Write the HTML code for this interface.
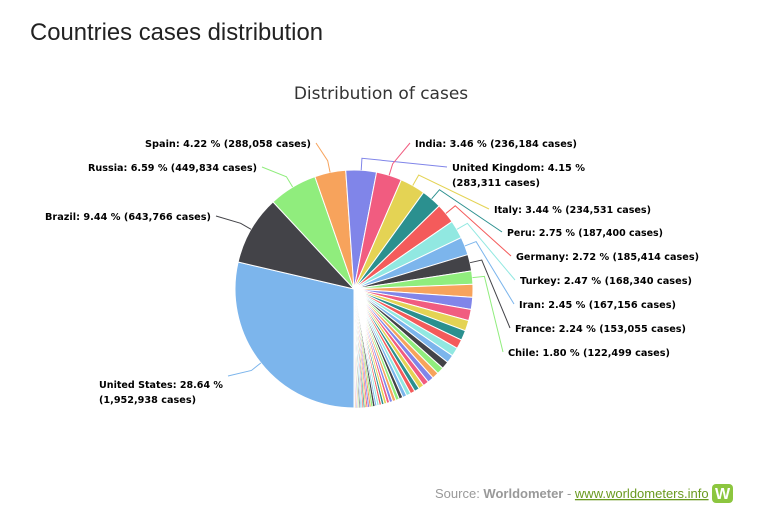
<!DOCTYPE html>
<html><head><meta charset="utf-8"><style>
body{margin:0;background:#fff;width:760px;height:506px;overflow:hidden;font-family:"Liberation Sans",sans-serif}
</style></head><body>
<svg id="s" width="760" height="506" xmlns="http://www.w3.org/2000/svg">
<text x="30" y="40" font-family="Liberation Sans, sans-serif" font-size="24" fill="#222" textLength="293" lengthAdjust="spacingAndGlyphs">Countries cases distribution</text>
<text x="381" y="99" text-anchor="middle" font-family="DejaVu Sans, sans-serif" font-size="17" fill="#333">Distribution of cases</text>
<g id="pie"></g><g id="lines"></g><g id="labels" font-family="DejaVu Sans, sans-serif" font-size="10" font-weight="bold" fill="#000"></g>
<text x="435" y="498" font-family="Liberation Sans, sans-serif" font-size="13" fill="#999">Source: <tspan font-weight="bold">Worldometer</tspan> - <tspan fill="#6a9a1f" text-decoration="underline">www.worldometers.info</tspan></text>
<rect x="712" y="484" width="21" height="19" rx="4" fill="#8cc63f"/>
<text x="722.5" y="499" text-anchor="middle" font-family="Liberation Sans, sans-serif" font-size="16" font-weight="bold" fill="#fff">W</text>
</svg>
<script>
var cx=354,cy=289,r=119;
var cols=["#7cb5ec","#434348","#90ed7d","#f7a35c","#8085e9","#f15c80","#e4d354","#2b908f","#f45b5b","#91e8e1"];
var v=[28.64,9.44,6.59,4.22,4.15,3.46,3.44,2.75,2.72,2.47,2.45,2.24,1.80];
var rem=100-v.reduce(function(a,b){return a+b},0),i=0;
while(rem>0.0001){var s=1.75*Math.pow(0.935,i);if(s<0.08)s=0.08;if(s>rem)s=rem;v.push(s);rem-=s;i++;}
var NS="http://www.w3.org/2000/svg",pie=document.getElementById("pie");
var a=180,mids=[];
function pt(ang,rad){var t=ang*Math.PI/180;return [cx+rad*Math.sin(t),cy-rad*Math.cos(t)];}
v.forEach(function(p,k){var d=p*3.6,p1=pt(a,r),p2=pt(a+d,r);
var path=document.createElementNS(NS,"path");
path.setAttribute("d","M"+cx+","+cy+"L"+p1[0]+","+p1[1]+"A"+r+","+r+" 0 "+(d>180?1:0)+" 1 "+p2[0]+","+p2[1]+"Z");
path.setAttribute("fill",cols[k%10]);path.setAttribute("stroke","#fff");path.setAttribute("stroke-width",k>40?"0.5":"1");
pie.appendChild(path);mids.push(a+d/2);a+=d;});
var L=[
[0,"United States: 28.64 %",99,388,124,"(1,952,938 cases)",97,"L"],
[1,"Brazil: 9.44 % (643,766 cases)",45,220,166,null,0,"R"],
[2,"Russia: 6.59 % (449,834 cases)",88,171,169,null,0,"R"],
[3,"Spain: 4.22 % (288,058 cases)",145,147,166,null,0,"R"],
[4,"United Kingdom: 4.15 %",452,171,133,"(283,311 cases)",88,"L"],
[5,"India: 3.46 % (236,184 cases)",415,147,162,null,0,"L"],
[6,"Italy: 3.44 % (234,531 cases)",494,213,157,null,0,"L"],
[7,"Peru: 2.75 % (187,400 cases)",507,236,156,null,0,"L"],
[8,"Germany: 2.72 % (185,414 cases)",516,260,183,null,0,"L"],
[9,"Turkey: 2.47 % (168,340 cases)",520,284,172,null,0,"L"],
[10,"Iran: 2.45 % (167,156 cases)",519,308,157,null,0,"L"],
[11,"France: 2.24 % (153,055 cases)",515,332,171,null,0,"L"],
[12,"Chile: 1.80 % (122,499 cases)",508,356,162,null,0,"L"]];
var lb=document.getElementById("labels"),ln=document.getElementById("lines");
L.forEach(function(o){
 var t=document.createElementNS(NS,"text");t.setAttribute("x",o[2]);t.setAttribute("y",o[3]);
 t.setAttribute("textLength",o[4]);t.setAttribute("lengthAdjust","spacingAndGlyphs");t.textContent=o[1];lb.appendChild(t);
 if(o[5]){var t2=document.createElementNS(NS,"text");t2.setAttribute("x",o[2]);t2.setAttribute("y",o[3]+15);
 t2.setAttribute("textLength",o[6]);t2.setAttribute("lengthAdjust","spacingAndGlyphs");t2.textContent=o[5];lb.appendChild(t2);}
 var m=mids[o[0]],p1=pt(m,r),p2=pt(m,r+12),ex,ey=o[3]-4;
 var right=(o[0]>=4);
 if(o[0]==0){ex=o[2]+o[4]+5;ey=o[3]-12;}
 else if(!right){ex=o[2]+o[4]+5;} else {ex=o[2]-5;}
 var pl=document.createElementNS(NS,"path");
 pl.setAttribute("d","M"+p1[0]+","+p1[1]+"L"+p2[0]+","+p2[1]+"L"+ex+","+ey);
 pl.setAttribute("fill","none");pl.setAttribute("stroke",cols[o[0]%10]);pl.setAttribute("stroke-width","1");
 ln.appendChild(pl);});
</script>
</body></html>
